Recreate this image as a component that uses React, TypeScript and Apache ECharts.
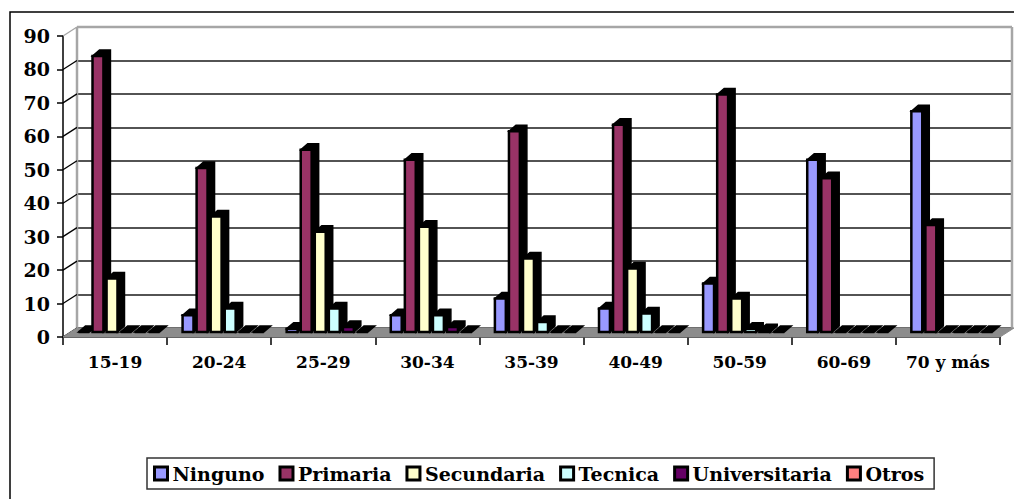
import React, { useEffect, useRef } from "react";
import * as echarts from "echarts";

const categories = ["15-19", "20-24", "25-29", "30-34", "35-39", "40-49", "50-59", "60-69", "70 y más"];
const seriesNames = ["Ninguno", "Primaria", "Secundaria", "Tecnica", "Universitaria", "Otros"];
const seriesColors = ["#9999FF", "#993366", "#FFFFCC", "#CCFFFF", "#660066", "#FF8080"];
const ninguno = [0, 5, 1, 5, 10, 7, 14.5, 51.5, 66];
const primaria = [82.5, 49, 54.5, 51.5, 60, 62, 71, 46, 32];
const secundaria = [16, 34.5, 30, 31.5, 22, 19, 10, 0, 0];
const tecnica = [0, 7, 7, 5, 3, 5.5, 1, 0, 0];
const universitaria = [0, 0, 1.5, 1.5, 0, 0, 0.5, 0, 0];
const otros = [0, 0, 0, 0, 0, 0, 0, 0, 0];
const seriesValues = [ninguno, primaria, secundaria, tecnica, universitaria, otros];
const yTicks = [0, 10, 20, 30, 40, 50, 60, 70, 80, 90];

const FONT = "DejaVu Serif";
const DEPTH_X = 14;
const DEPTH_Y = -9;
const BAR_SHIFT_X = 4;
const BAR_SHIFT_Y = -5;
const EXT_X = 7;
const EXT_Y = -6;

const FRONT = { left: 63, top: 36, width: 937, height: 301 };

function makeBarRender(s: number) {
  return (params: any, api: any) => {
    const cat = api.value(0);
    const val = api.value(1);
    const top = api.coord([cat, val]);
    const base = api.coord([cat, 0]);
    const band = api.size([1, 0])[0];
    const pitch = band * 0.135;
    const faceW = band * 0.105;
    const cx = top[0] + BAR_SHIFT_X + (s - 2.5) * pitch;
    const x = cx - faceW / 2;
    const yTop = top[1] + BAR_SHIFT_Y;
    const yBot = base[1] + BAR_SHIFT_Y;
    return {
      type: "group",
      children: [
        {
          type: "polygon",
          shape: {
            points: [
              [x, yTop],
              [x + EXT_X, yTop + EXT_Y],
              [x + faceW + EXT_X, yTop + EXT_Y],
              [x + faceW + EXT_X, yBot + EXT_Y],
              [x + faceW, yBot],
              [x + faceW, yTop],
            ],
          },
          style: { fill: "#000", stroke: "#000", lineWidth: 1.5 },
        },
        {
          type: "rect",
          shape: { x, y: yTop, width: faceW, height: Math.max(0, yBot - yTop) },
          style: { fill: api.visual("color"), stroke: "#000", lineWidth: 2.5 },
        },
      ],
    };
  };
}

export default function App() {
  const ref = useRef<HTMLDivElement>(null);
  useEffect(() => {
    if (!ref.current) return;
    const chart = echarts.init(ref.current, undefined, { renderer: "svg" });

    const barSeries = seriesNames.map((name, s) => ({
      name,
      type: "custom",
      xAxisIndex: 0,
      yAxisIndex: 0,
      z: 5,
      itemStyle: { color: seriesColors[s] },
      renderItem: makeBarRender(s),
      encode: { x: 0, y: 1 },
      data: categories.map((_, i) => [i, seriesValues[s][i]]),
    }));

    const option: any = {
      animation: false,
      backgroundColor: "#fff",
      grid: [
        { left: FRONT.left, top: FRONT.top, width: FRONT.width, height: FRONT.height },
        {
          left: FRONT.left + DEPTH_X,
          top: FRONT.top + DEPTH_Y,
          width: FRONT.width - 2,
          height: FRONT.height,
        },
      ],
      xAxis: [
        {
          type: "category",
          gridIndex: 0,
          data: categories,
          axisLine: { show: true, lineStyle: { color: "#000", width: 1.5 } },
          axisTick: { show: true, interval: 0, length: 8, lineStyle: { color: "#000", width: 1.5 } },
          axisLabel: {
            interval: 0,
            color: "#000",
            fontFamily: FONT,
            fontWeight: "bold",
            fontSize: 17,
            margin: 16,
          },
          splitLine: { show: false },
        },
        {
          type: "category",
          gridIndex: 1,
          data: categories,
          show: false,
        },
      ],
      yAxis: [
        {
          type: "value",
          gridIndex: 0,
          min: 0,
          max: 90,
          interval: 10,
          axisLine: { show: true, lineStyle: { color: "#000", width: 1.5 } },
          axisTick: { show: true, length: 6, lineStyle: { color: "#000", width: 1.5 } },
          axisLabel: {
            color: "#000",
            fontFamily: FONT,
            fontWeight: "bold",
            fontSize: 19,
            margin: 13,
          },
          splitLine: { show: false },
        },
        {
          type: "value",
          gridIndex: 1,
          min: 0,
          max: 90,
          interval: 10,
          axisLine: { show: false },
          axisTick: { show: false },
          axisLabel: { show: false },
          splitLine: { show: true, lineStyle: { color: "#1a1a1a", width: 1.5 } },
        },
      ],
      legend: {
        left: 147,
        top: 458,
        orient: "horizontal",
        padding: [6, 10, 6, 6],
        itemGap: 14,
        itemWidth: 13,
        itemHeight: 13,
        borderColor: "#333",
        borderWidth: 1.5,
        textStyle: { color: "#000", fontFamily: FONT, fontWeight: "bold", fontSize: 19 },
        data: seriesNames.map((name, s) => ({
          name,
          icon: "rect",
          itemStyle: { color: seriesColors[s], borderColor: "#000", borderWidth: 3 },
        })),
      },
      graphic: [
        {
          type: "rect",
          shape: { x: 10, y: 12, width: 1200, height: 700 },
          style: { fill: "none", stroke: "#000", lineWidth: 1.5 },
          silent: true,
        },
      ],
      series: [
        {
          type: "custom",
          name: "walls",
          xAxisIndex: 1,
          yAxisIndex: 1,
          z: 3,
          silent: true,
          data: [[0, 0]],
          renderItem: (params: any) => {
            const c = params.coordSys;
            return {
              type: "group",
              children: [
                { type: "line", shape: { x1: c.x, y1: c.y, x2: c.x + c.width, y2: c.y }, style: { stroke: "#a6a6a6", lineWidth: 2.5 } },
                { type: "line", shape: { x1: c.x, y1: c.y, x2: c.x, y2: c.y + c.height }, style: { stroke: "#a6a6a6", lineWidth: 2.5 } },
                { type: "line", shape: { x1: c.x + c.width, y1: c.y, x2: c.x + c.width, y2: c.y + c.height }, style: { stroke: "#a6a6a6", lineWidth: 2.5 } },
              ],
            };
          },
        },
        {
          type: "custom",
          name: "connectors",
          xAxisIndex: 0,
          yAxisIndex: 0,
          z: 3,
          silent: true,
          data: yTicks.map((v) => [0, v]),
          renderItem: (params: any, api: any) => {
            const c = params.coordSys;
            const y = api.coord([0, api.value(1)])[1];
            const isTop = api.value(1) === yTicks[yTicks.length - 1];
            return {
              type: "line",
              shape: { x1: c.x, y1: y, x2: c.x + DEPTH_X, y2: y + DEPTH_Y },
              style: { stroke: isTop ? "#a6a6a6" : "#000", lineWidth: 1.3 },
            };
          },
        },
        {
          type: "custom",
          name: "floor",
          xAxisIndex: 0,
          yAxisIndex: 0,
          z: 4,
          silent: true,
          data: [[0, 0]],
          renderItem: (params: any) => {
            const c = params.coordSys;
            const yb = c.y + c.height;
            return {
              type: "polygon",
              shape: {
                points: [
                  [c.x, yb],
                  [c.x + c.width, yb],
                  [c.x + c.width + DEPTH_X, yb + DEPTH_Y],
                  [c.x + DEPTH_X, yb + DEPTH_Y],
                ],
              },
              style: { fill: "#8c8c8c", stroke: "#8c8c8c", lineWidth: 1 },
            };
          },
        },
        ...barSeries,
      ],
    };
    chart.setOption(option);
    return () => chart.dispose();
  }, []);
  return (
    <div
      ref={ref}
      style={{ position: "fixed", left: 0, top: 0, width: 1014, height: 499, background: "#fff" }}
    />
  );
}
